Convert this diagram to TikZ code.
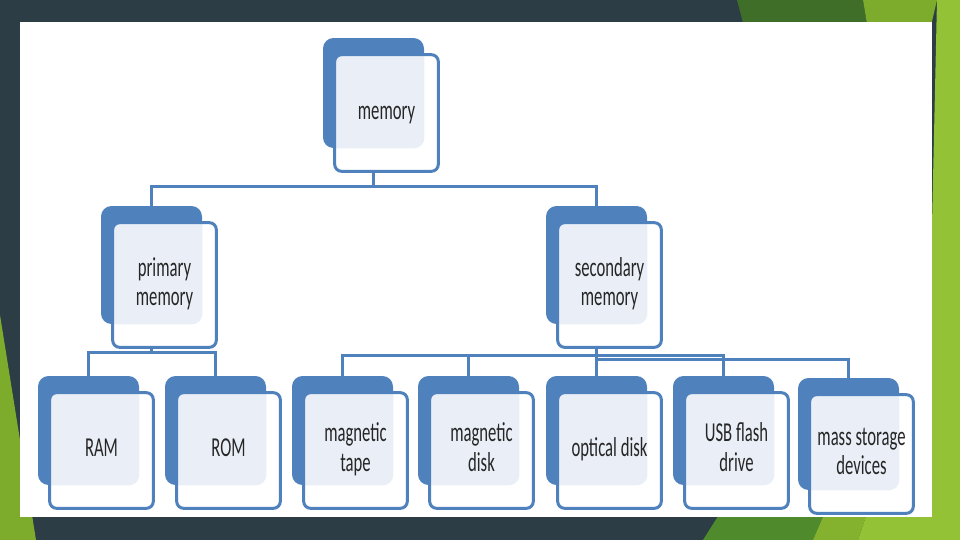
\documentclass[tikz,border=0pt]{standalone}
\usepackage{fontspec}
\setmainfont{Carlito}
\usepackage{graphicx}
\usetikzlibrary{backgrounds}

% texto estrecho, como en la imagen
\newcommand\apretar[1]{\scalebox{0.61}[1]{\begin{tabular}{@{}c@{}}#1\end{tabular}}}

\begin{document}
\begin{tikzpicture}[x=0.5669pt, y=-0.5669pt]
		% Definición de colores
		\definecolor{pizarra}{HTML}{2C3D45}   % Fondo oscuro de la diapositiva
		\definecolor{verdeosc}{HTML}{3F6E28}  % Verde oscuro (arriba)
		\definecolor{verdemed}{HTML}{7DAB2B}  % Verde medio
		\definecolor{verdecla}{HTML}{93C236}  % Verde claro
		\definecolor{verdebajo}{HTML}{4F8B2D} % Verde (abajo)
		\definecolor{azulcaja}{HTML}{4F81BD}  % Azul de las cajas
		\definecolor{relleno}{HTML}{EAEFF7}   % Interior de las cajas
		\definecolor{tinta}{HTML}{262626}
		
		\tikzset{
			cajafondo/.style={fill=azulcaja, rounded corners=6pt, inner sep=0pt, minimum width=101*0.5669pt},
			cajafrente/.style={fill=white, rounded corners=4pt, inner sep=0pt, minimum width=103*0.5669pt},
			texto/.style={font=\fontsize{15.5}{17}\selectfont, text=tinta, inner sep=0pt},
			enlace/.style={azulcaja, line width=1.7pt}
		}
		
		\useasboundingbox (0,0) rectangle (960,540);
		
		% --- Fondo de la diapositiva ---
		\begin{scope}[on background layer]
			\fill[pizarra] (0,0) rectangle (960,540);
			\fill[verdemed] (0,315) -- (36,540) -- (0,540) -- cycle;
			\fill[verdeosc] (737,0) -- (863,0) -- (868,30) -- (745,30) -- cycle;
			\fill[verdemed] (863,0) -- (937,0) -- (930,30) -- (868,30) -- cycle;
			\fill[verdecla] (937,0) -- (960,0) -- (960,540) -- (925,540) -- cycle;
			\fill[verdebajo] (722,510) -- (826,510) -- (813,540) -- (703,540) -- cycle;
			\fill[verdemed!70!verdecla] (826,510) -- (868,510) -- (858,540) -- (813,540) -- cycle;
			\fill[verdecla] (868,510) -- (940,510) -- (940,540) -- (858,540) -- cycle;
			% Panel blanco
			\fill[white] (20,22) rectangle (932,517);
		\end{scope}
		
		% --- Cajas ---
		% nombre / x / y (esquina de la caja azul) / alto / texto
		\foreach \nm/\bx/\by/\bh/\txt in {
				mem/323/38/110/memory,
				prim/101/206/118/{primary\\memory},
				sec/546/206/118/{secondary\\memory},
				ram/38/376/109/RAM,
				rom/165/376/109/ROM,
				tape/292/376/109/{magnetic\\tape},
				mdisk/418/376/109/{magnetic\\disk},
				optical/546/376/109/optical disk,
				usb/673/376/109/{USB flash\\drive},
				mass/798/378/112/{mass storage\\devices}}{
			\node[cajafondo, minimum height=\bh*0.5669pt] (\nm-b) at (\bx+50.5, \by+\bh/2) {};
			\node[cajafrente, minimum height={(\bh+6)*0.5669pt}] (\nm) at (\bx+63.5, \by+20+\bh/2) {};
			% zona común de las dos cajas
			\begin{scope}
				\clip[rounded corners=4pt] (\nm.south west) rectangle (\nm.north east);
				\fill[relleno, rounded corners=6pt] (\nm-b.south west) rectangle (\nm-b.north east);
			\end{scope}
			\draw[azulcaja, line width=1.7pt, rounded corners=4pt] (\nm.south west) rectangle (\nm.north east);
			\node[texto] (\nm-t) at (\nm.center) {\apretar{\txt}};
		}
		
		% --- Conectores ---
		\coordinate (barra1) at (373.5,186);
		\coordinate (barra2) at (151.5,352);
		\coordinate (barra3) at (596.5,355);
		\coordinate (barra4) at (596.5,359);
		\begin{scope}[on background layer]
			\draw[enlace] (mem-b.center) -- (mem-b.center |- barra1);
			\draw[enlace] (prim-b.north) |- (barra1) -| (sec-b.north);
			\draw[enlace] (prim-b.center) -- (prim-b.center |- barra2);
			\draw[enlace] (ram-b.north) |- (barra2) -| (rom-b.north);
			\draw[enlace] (sec-b.center) -- (sec-b.center |- barra3);
			\draw[enlace] (tape-b.north) |- (barra3) -| (usb-b.north);
			\draw[enlace] (mdisk-b.north) -- (mdisk-b.north |- barra3);
			\draw[enlace] (optical-b.north) -- (optical-b.north |- barra3);
			\draw[enlace] (barra4) -| (mass-b.north);
		\end{scope}
		
	\end{tikzpicture}
\end{document}
